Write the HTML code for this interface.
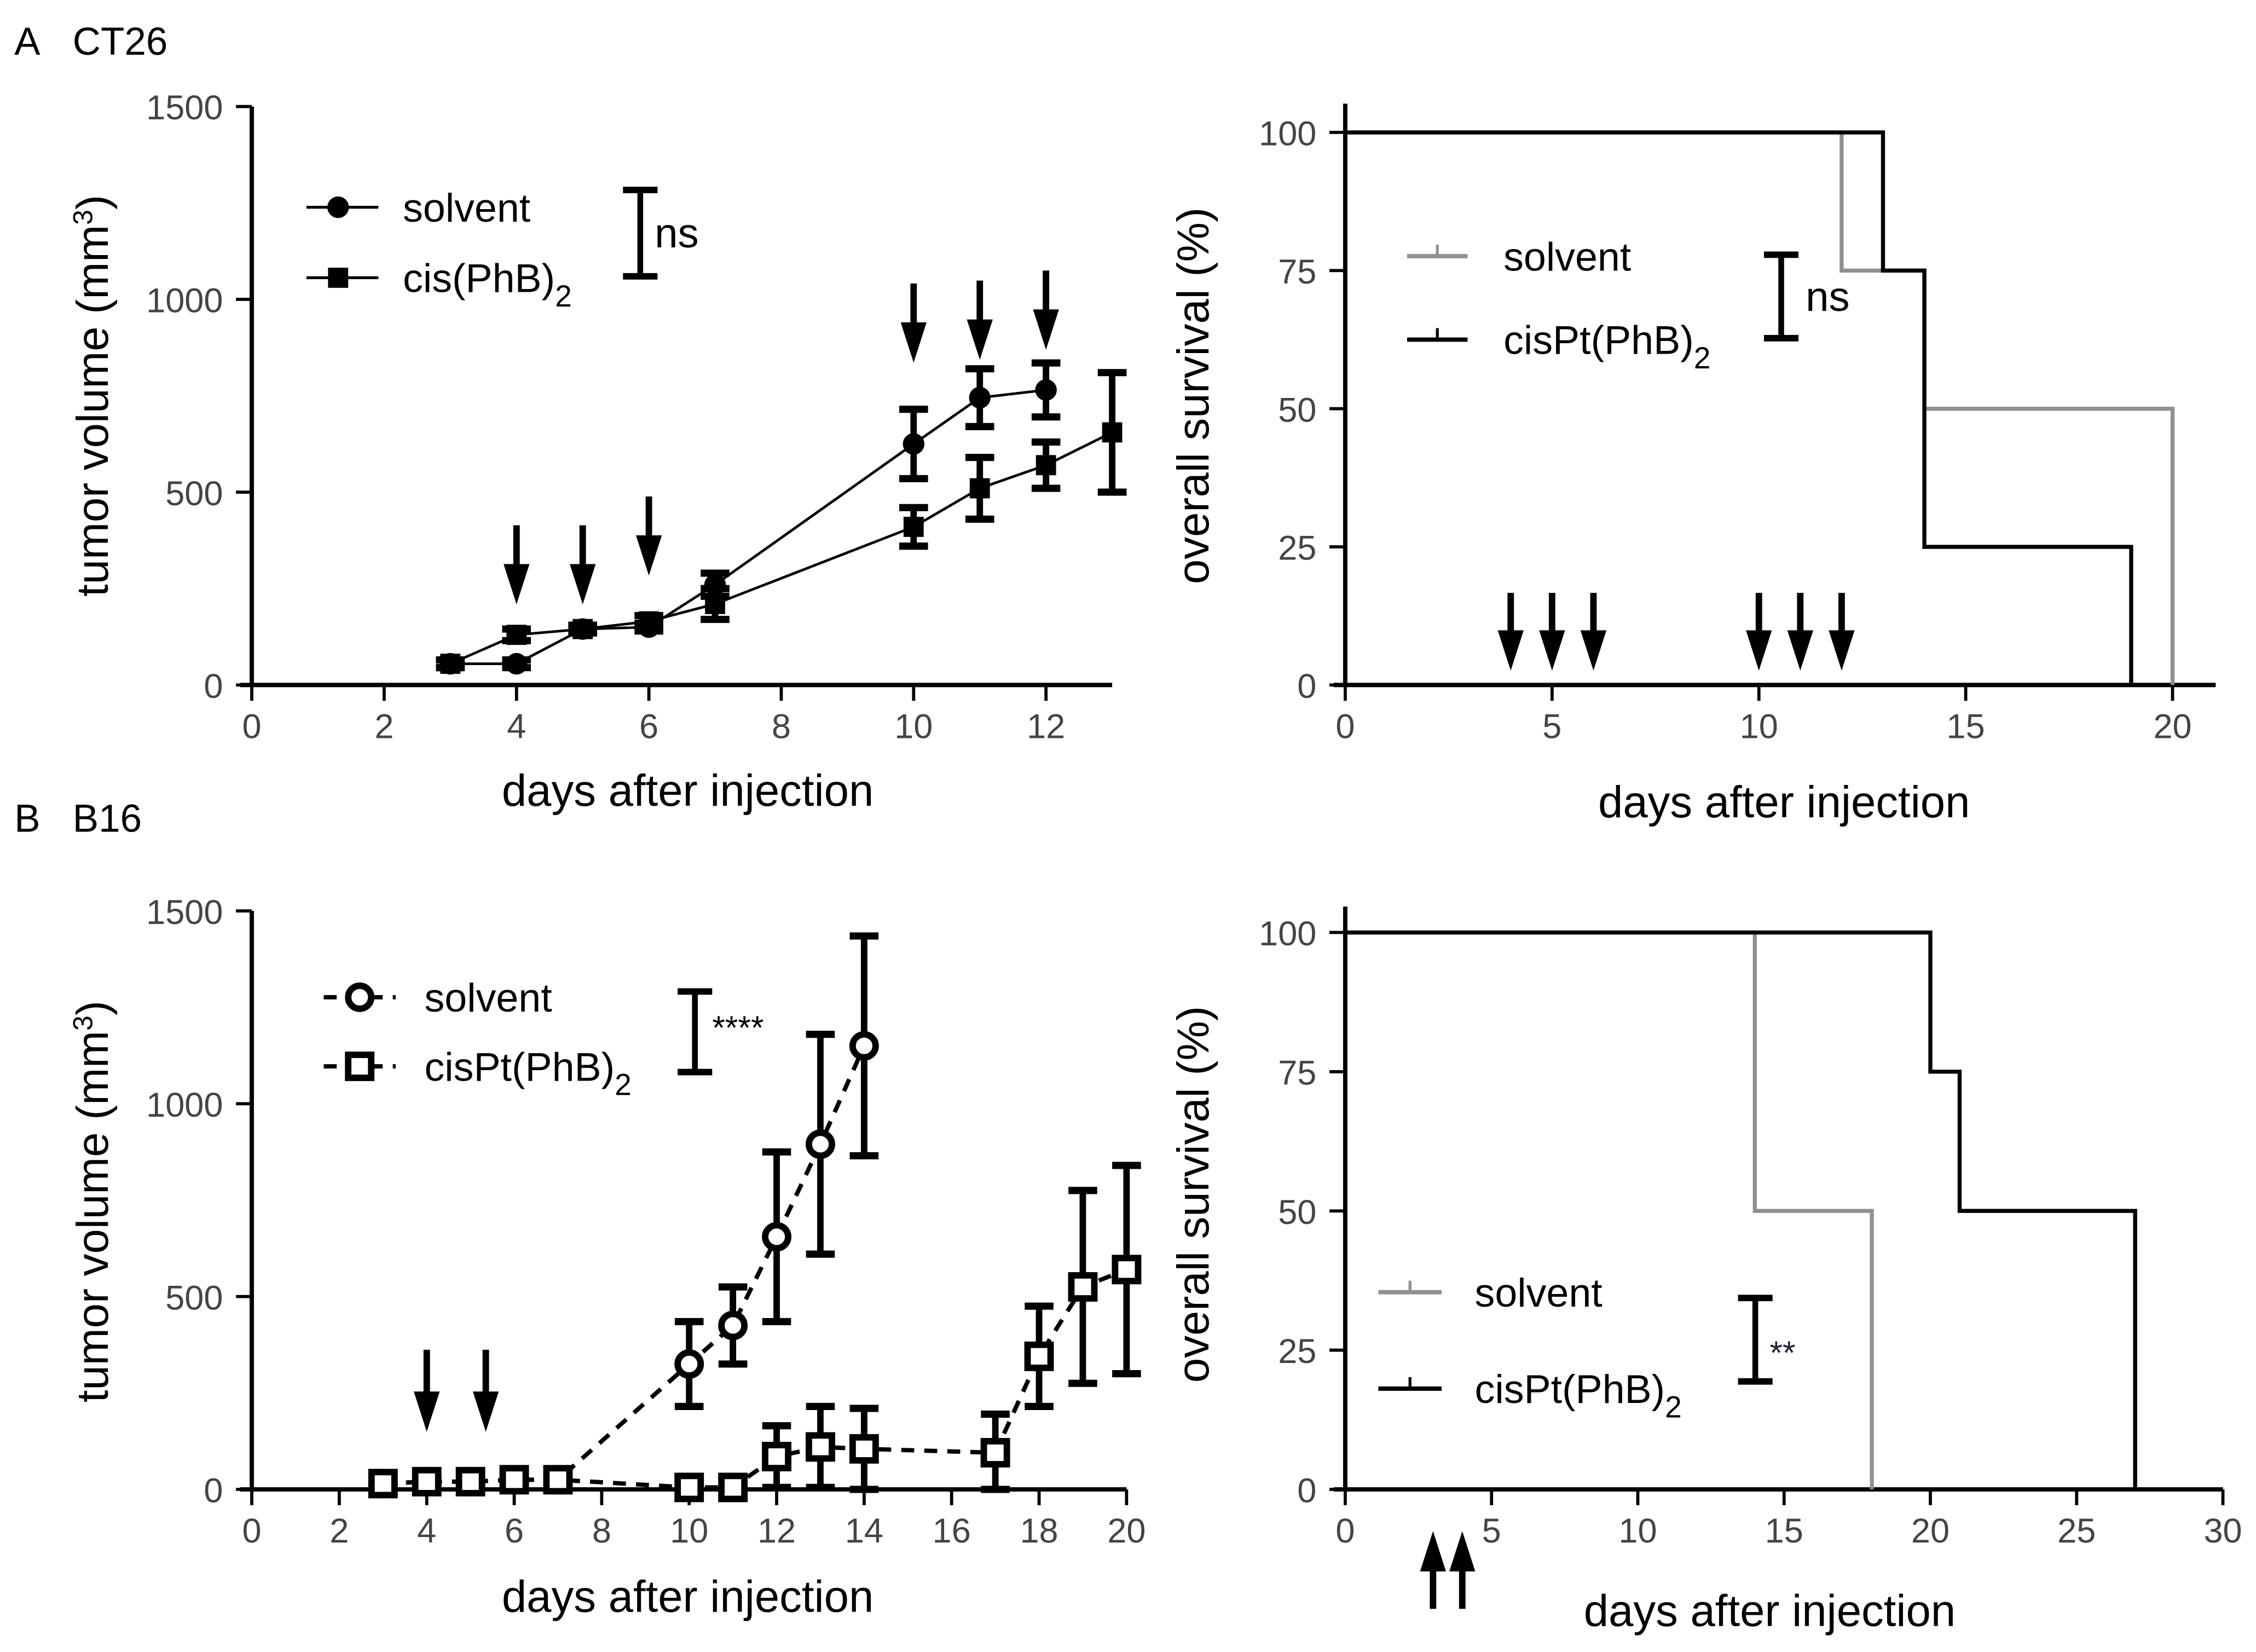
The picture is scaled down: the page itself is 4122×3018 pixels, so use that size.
<!DOCTYPE html>
<html><head><meta charset="utf-8"><style>
html,body{margin:0;padding:0;background:#fff}
svg{display:block}
text{font-family:"Liberation Sans",Arial,sans-serif}
</style></head><body>
<svg id="fig" width="4122" height="3018" viewBox="0 0 1568 1148" xmlns="http://www.w3.org/2000/svg">
<rect width="1568" height="1148" fill="#fff"/>
<text x="10" y="38" font-size="27">A&#160;&#160;&#160;CT26</text>
<text x="10" y="578" font-size="27">B&#160;&#160;&#160;B16</text>
</svg>
<script>
// ---- data ----
const aDays=[3,4,5,6,7,10,11,12];
const aSolvent=[55,55,145,150,260,625,745,765];
const aSolventErr=[10,10,10,10,30,90,75,70];
const aCisDays=[3,4,5,6,7,10,11,12,13];
const aCis=[55,130,145,165,210,410,510,570,655];
const aCisErr=[10,15,10,15,40,50,80,60,155];
const aArrowDays=[4,5,6,10,11,12];
const aArrowTops=[365,365,345,197,195,188];
const aSurvSolventT=[0,12,14,20];
const aSurvSolventV=[100,75,50,0];
const aSurvCisT=[0,13,14,19];
const aSurvCisV=[100,75,25,0];
const aSurvArrowDays=[4,5,6,10,11,12];
const bDays=[3,4,5,6,7,10,11,12,13,14];
const bSolvent=[15,20,20,25,25,325,425,655,895,1150];
const bSolventErr=[8,8,8,8,8,110,100,220,285,285];
const bCisDays=[3,4,5,6,7,10,11,12,13,14,17,18,19,20];
const bCis=[15,20,20,25,25,5,5,85,110,105,95,345,525,570];
const bCisErr=[8,8,8,8,8,8,8,80,105,105,100,130,250,270];
const bArrowDays=[4,5.35];
const bSurvSolventT=[0,14,18];
const bSurvSolventV=[100,50,0];
const bSurvCisT=[0,20,21,27];
const bSurvCisV=[100,75,50,0];
const bSurvArrowDays=[3,4];
const volTicks=[0,500,1000,1500];
const survTicks=[0,25,50,75,100];

const NS='http://www.w3.org/2000/svg';
const svg=document.getElementById('fig');
function mk(tag,attrs,parent){const e=document.createElementNS(NS,tag);for(const k in attrs)e.setAttribute(k,attrs[k]);(parent||svg).appendChild(e);return e;}
function grp(name){const g=mk('g',{});return g;}
function lin(d0,d1,r0,r1){return v=>r0+(v-d0)*(r1-r0)/(d1-d0);}

function axes(name,x,y,xmin,xmax,xticks,ymin,ymax,yticks,xEnd,yTop,xtitle,ytitle,xtx,xty,ytx,yty){
  const g=grp(name);
  const x0=x(xmin),y0=y(ymin);
  mk('line',{x1:x0,y1:yTop,x2:x0,y2:y0,stroke:'#000','stroke-width':3},g);
  mk('line',{x1:x0-8,y1:y0,x2:xEnd,y2:y0,stroke:'#000','stroke-width':3},g);
  xticks.forEach(t=>{mk('line',{x1:x(t),y1:y0,x2:x(t),y2:y0+11,stroke:'#000','stroke-width':2.2},g);
    const tx=mk('text',{x:x(t),y:y0+37,'font-size':24,'text-anchor':'middle',fill:'#444'},g);tx.textContent=t;
    });
  yticks.forEach(t=>{mk('line',{x1:x0-11,y1:y(t),x2:x0,y2:y(t),stroke:'#000','stroke-width':2.2},g);
    const tx=mk('text',{x:x0-20,y:y(t)+9,'font-size':24,'text-anchor':'end',fill:'#444'},g);tx.textContent=t;
    });
  const xt=mk('text',{x:xtx,y:xty,'font-size':31,'text-anchor':'middle'},g);xt.textContent=xtitle;
  
  const yt=mk('text',{x:0,y:0,'font-size':31,'text-anchor':'middle',transform:`translate(${ytx},${yty}) rotate(-90)`},g);
  yt.innerHTML=ytitle;
  
}
function arrowDown(g,x,top,tip){mk('line',{x1:x,y1:top,x2:x,y2:tip-25,stroke:'#000','stroke-width':4.5},g);
  mk('polygon',{points:`${x-9},${tip-28} ${x+9},${tip-28} ${x},${tip}`,fill:'#000'},g);}
function arrowUp(g,x,bot,tip){mk('line',{x1:x,y1:bot,x2:x,y2:tip+25,stroke:'#000','stroke-width':4.5},g);
  mk('polygon',{points:`${x-9},${tip+28} ${x+9},${tip+28} ${x},${tip}`,fill:'#000'},g);}
function series(name,x,y,days,vals,errs,marker,dashed,open){
  const g=grp(name);
  const pts=days.map((d,i)=>x(d)+','+y(vals[i])).join(' ');
  mk('polyline',{points:pts,fill:'none',stroke:'#000','stroke-width':dashed?3:1.8,'stroke-dasharray':dashed?'9,7':'none'},g);
  days.forEach((d,i)=>{const cx=x(d),cy=y(vals[i]),e=errs[i];
    mk('line',{x1:cx,y1:y(vals[i]+e),x2:cx,y2:y(Math.max(0,vals[i]-e)),stroke:'#000','stroke-width':4.5},g);
    [vals[i]+e,Math.max(0,vals[i]-e)].forEach(v=>mk('line',{x1:cx-10,y1:y(v),x2:cx+10,y2:y(v),stroke:'#000','stroke-width':5},g));
    let m;
    if(marker==='circle')m=mk('circle',{cx:cx,cy:cy,r:open?8:7.5,fill:open?'#fff':'#000',stroke:'#000','stroke-width':open?4.5:0},g);
    else m=mk('rect',{x:cx-(open?8:7),y:cy-(open?8:7),width:open?16:14,height:open?16:14,fill:open?'#fff':'#000',stroke:'#000','stroke-width':open?4.5:0},g);
    });
}
function steps(name,x,y,ts,vs,xEnd,color){
  const g=grp(name);let d=`M${x(ts[0])},${y(vs[0])}`;
  for(let i=1;i<ts.length;i++){d+=` H${x(ts[i])} V${y(vs[i])}`;}
  mk('path',{d:d,fill:'none',stroke:color,'stroke-width':2.8},g);
}
function legendText(g,x,y,html){const t=mk('text',{x:x,y:y,'font-size':28},g);t.innerHTML=html;}
function bracket(g,x,y1,y2,label,lx,ly,fs,col){
  mk('line',{x1:x,y1:y1,x2:x,y2:y2,stroke:'#000','stroke-width':4},g);
  mk('line',{x1:x-12,y1:y1,x2:x+12,y2:y1,stroke:'#000','stroke-width':4.5},g);
  mk('line',{x1:x-12,y1:y2,x2:x+12,y2:y2,stroke:'#000','stroke-width':4.5},g);
  const t=mk('text',{x:lx,y:ly,'font-size':fs,fill:col||'#000'},g);t.textContent=label;
  }
const SUB='cisPt(PhB)<tspan font-size="21" dy="10">2</tspan>';

// ---- Panel A left ----
{const x=lin(0,12,175,727),y=lin(0,1500,476,74);
axes('a-volume-axes',x,y,0,13,[0,2,4,6,8,10,12],0,1500,volTicks,773,74,'days after injection','tumor volume (mm<tspan font-size="19" dy="-11">3</tspan><tspan dy="11">)</tspan>',478,560,75,275);
series('a-solvent-series',x,y,aDays,aSolvent,aSolventErr,'circle',false,false);
series('a-cis-series',x,y,aCisDays,aCis,aCisErr,'square',false,false);
const ga=grp('a-volume-arrows');
aArrowDays.forEach((d,i)=>arrowDown(ga,x(d),aArrowTops[i],aArrowTops[i]+55));
const lg=grp('a-volume-legend');
mk('line',{x1:213,y1:144,x2:263,y2:144,stroke:'#000','stroke-width':2},lg);mk('circle',{cx:235,cy:144,r:7.5,fill:'#000'},lg);
legendText(lg,280,154,'solvent');
mk('line',{x1:213,y1:193,x2:263,y2:193,stroke:'#000','stroke-width':2},lg);mk('rect',{x:228,y:186,width:14,height:14,fill:'#000'},lg);
legendText(lg,280,203,'cis(PhB)<tspan font-size="21" dy="10">2</tspan>');
bracket(lg,445,132,192,'ns',455,172,29);}

// ---- Panel A right ----
{const x=lin(0,20,935,1510),y=lin(0,100,476,92);
axes('a-survival-axes',x,y,0,21,[0,5,10,15,20],0,100,survTicks,1540,72,'days after injection','overall survival (%)',1240,568,840,275);
steps('a-survival-solvent',x,y,aSurvSolventT,aSurvSolventV,1540,'#909090');
steps('a-survival-cis',x,y,aSurvCisT,aSurvCisV,1540,'#000');
const ga=grp('a-survival-arrows');
aSurvArrowDays.forEach(d=>arrowDown(ga,x(d),412,466));
const lg=grp('a-survival-legend');
mk('line',{x1:978,y1:178,x2:1020,y2:178,stroke:'#909090','stroke-width':3},lg);mk('line',{x1:999,y1:170,x2:999,y2:178,stroke:'#909090','stroke-width':2},lg);
legendText(lg,1045,188,'solvent');
mk('line',{x1:978,y1:236,x2:1020,y2:236,stroke:'#000','stroke-width':3},lg);mk('line',{x1:999,y1:228,x2:999,y2:236,stroke:'#000','stroke-width':2},lg);
legendText(lg,1045,246,SUB);
bracket(lg,1238,177,235,'ns',1255,216,29);}

// ---- Panel B left ----
{const x=lin(0,20,175,783),y=lin(0,1500,1035,633);
axes('b-volume-axes',x,y,0,20,[0,2,4,6,8,10,12,14,16,18,20],0,1500,volTicks,783,633,'days after injection','tumor volume (mm<tspan font-size="19" dy="-11">3</tspan><tspan dy="11">)</tspan>',478,1120,75,835);
series('b-solvent-series',x,y,bDays,bSolvent,bSolventErr,'circle',true,true);
series('b-cis-series',x,y,bCisDays,bCis,bCisErr,'square',true,true);
const ga=grp('b-volume-arrows');
bArrowDays.forEach(d=>arrowDown(ga,x(d),938,995));
const lg=grp('b-volume-legend');
mk('line',{x1:225,y1:693,x2:275,y2:693,stroke:'#000','stroke-width':3,'stroke-dasharray':'9,7'},lg);mk('circle',{cx:250,cy:693,r:8,fill:'#fff',stroke:'#000','stroke-width':4.5},lg);
legendText(lg,295,703,'solvent');
mk('line',{x1:225,y1:741,x2:275,y2:741,stroke:'#000','stroke-width':3,'stroke-dasharray':'9,7'},lg);mk('rect',{x:242,y:733,width:16,height:16,fill:'#fff',stroke:'#000','stroke-width':4.5},lg);
legendText(lg,295,751,SUB);
bracket(lg,483,689,745,'****',495,722,23);}

// ---- Panel B right ----
{const x=lin(0,30,935,1545),y=lin(0,100,1035,648);
axes('b-survival-axes',x,y,0,30,[0,5,10,15,20,25,30],0,100,survTicks,1545,630,'days after injection','overall survival (%)',1230,1130,840,830);
steps('b-survival-solvent',x,y,bSurvSolventT,bSurvSolventV,1545,'#909090');
steps('b-survival-cis',x,y,bSurvCisT,bSurvCisV,1545,'#000');
const ga=grp('b-survival-arrows');
bSurvArrowDays.forEach(d=>arrowUp(ga,x(d),1118,1064));
const lg=grp('b-survival-legend');
mk('line',{x1:958,y1:898,x2:1002,y2:898,stroke:'#909090','stroke-width':3},lg);mk('line',{x1:980,y1:890,x2:980,y2:898,stroke:'#909090','stroke-width':2},lg);
legendText(lg,1025,908,'solvent');
mk('line',{x1:958,y1:965,x2:1002,y2:965,stroke:'#000','stroke-width':3},lg);mk('line',{x1:980,y1:957,x2:980,y2:965,stroke:'#000','stroke-width':2},lg);
legendText(lg,1025,975,SUB);
bracket(lg,1220,902,960,'**',1230,948,23,'#223');}
</script>
</body></html>
